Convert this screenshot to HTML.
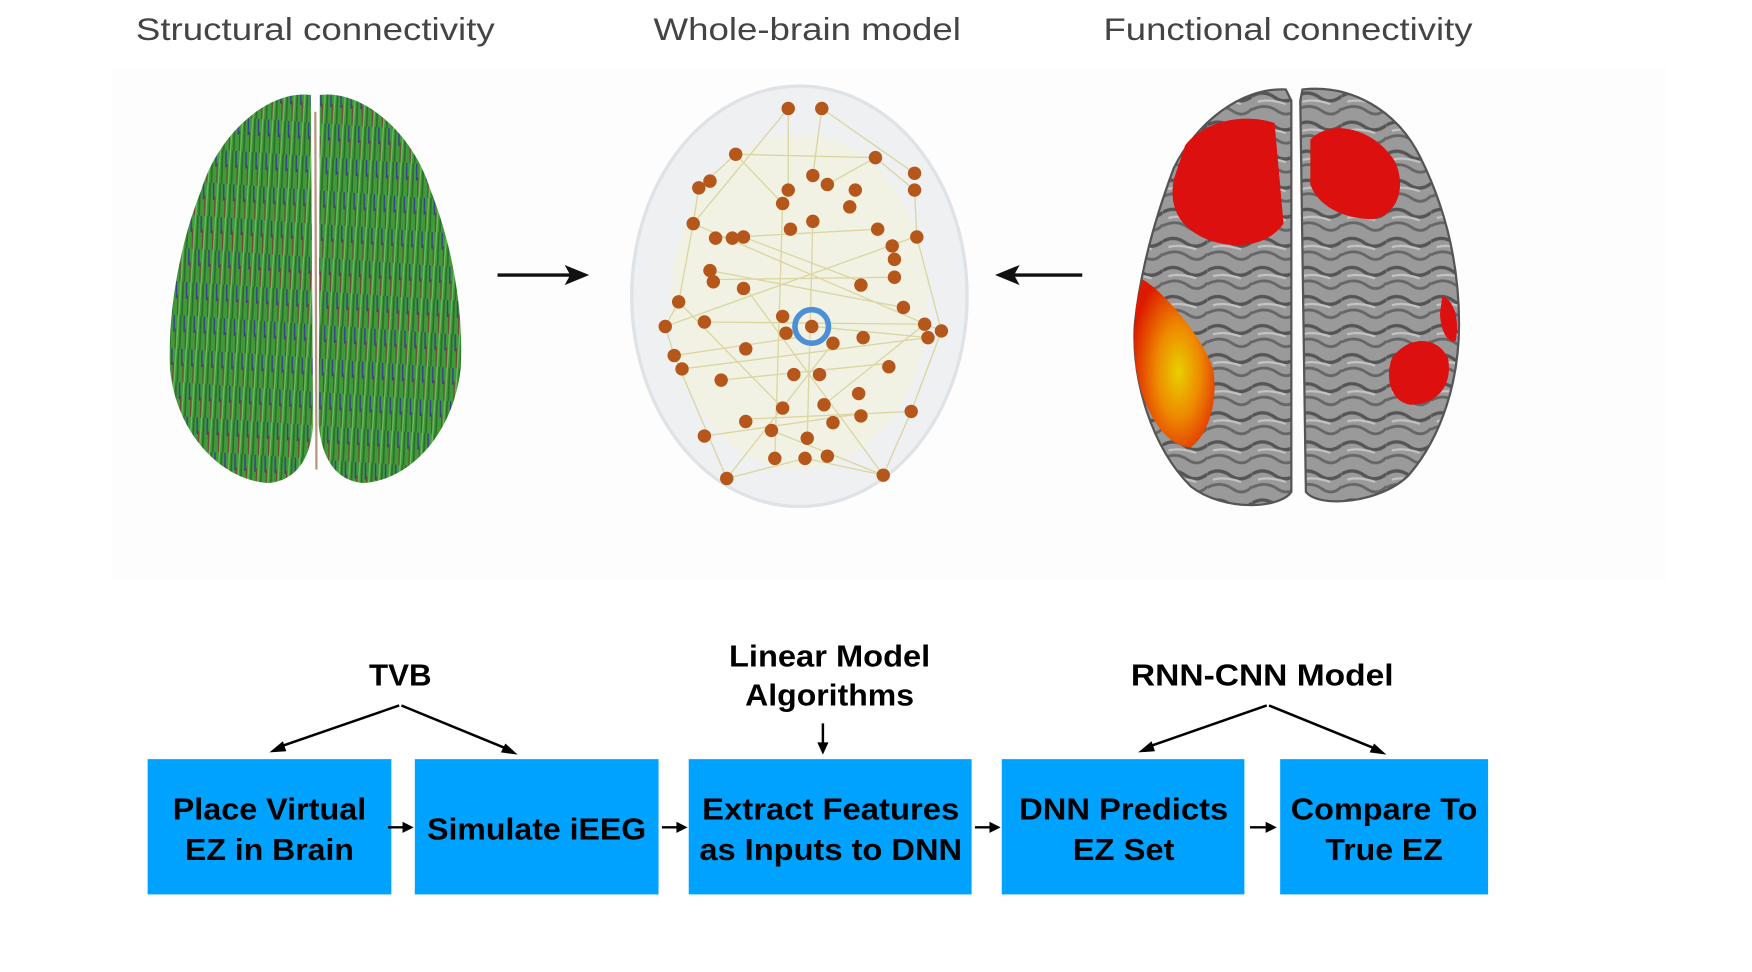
<!DOCTYPE html>
<html><head><meta charset="utf-8"><style>
html,body{margin:0;padding:0;background:#fff;}
svg{display:block;}
.t{font-family:"Liberation Sans",sans-serif;}
.b{font-family:"Liberation Sans",sans-serif;font-weight:bold;fill:#000;}
</style></head><body>
<svg width="1752" height="972" viewBox="0 0 1567 869.4" xmlns="http://www.w3.org/2000/svg">
<defs>
<pattern id="fib" width="9" height="30" patternUnits="userSpaceOnUse" patternTransform="rotate(4)">
<rect width="9" height="30" fill="#3f9a3a"/>
<path d="M1 0 L2 30" stroke="#2a6f2a" stroke-width="1.5"/>
<path d="M4 0 L5 15" stroke="#3c3f8f" stroke-width="1.3"/>
<path d="M6 12 L7 30" stroke="#7a3f3a" stroke-width="1"/>
<path d="M8 0 L8 30" stroke="#6fc060" stroke-width="1"/>
</pattern>
<pattern id="gyr" width="40" height="26" patternUnits="userSpaceOnUse">
<rect width="40" height="26" fill="#9a9a9a"/>
<path d="M0 8 Q10 2 20 9 T40 8" stroke="#555" stroke-width="3" fill="none"/>
<path d="M0 20 Q12 14 22 21 T40 19" stroke="#666" stroke-width="2.5" fill="none"/>
<path d="M5 13 Q15 10 30 15" stroke="#c4c4c4" stroke-width="2" fill="none"/>
</pattern>
<radialGradient id="hot" cx="0.55" cy="0.55" r="0.6">
<stop offset="0" stop-color="#e8d000"/><stop offset="0.45" stop-color="#ee8a00"/><stop offset="1" stop-color="#dd1a00"/>
</radialGradient>
</defs>
<rect x="100" y="60" width="1390" height="460" fill="#fdfdfd"/>

<text class="t" x="282" y="36" font-size="28" fill="#444" text-anchor="middle" textLength="321" lengthAdjust="spacingAndGlyphs">Structural connectivity</text>
<text class="t" x="722" y="36" font-size="28" fill="#444" text-anchor="middle" textLength="275" lengthAdjust="spacingAndGlyphs">Whole-brain model</text>
<text class="t" x="1152" y="36" font-size="28" fill="#444" text-anchor="middle" textLength="330" lengthAdjust="spacingAndGlyphs">Functional connectivity</text>

<!-- brain 1 -->
<path d="M278 85 C240 80 195 120 180 170 C160 220 150 280 152 330 C158 390 200 430 240 432 C265 430 278 410 280 380 Z" fill="url(#fib)"/>
<path d="M286 85 C325 80 370 120 385 170 C405 220 415 280 412 330 C405 390 365 430 325 432 C300 430 288 410 285 380 Z" fill="url(#fib)"/>
<path d="M282 100 L283 420" stroke="#8a5030" stroke-width="2" opacity="0.6"/>

<!-- arrows top -->
<line x1="445" y1="246" x2="515" y2="246" stroke="#111" stroke-width="3"/>
<polygon points="527,246 505,237 510,246 505,255" fill="#111"/>
<line x1="903" y1="246" x2="968" y2="246" stroke="#111" stroke-width="3"/>
<polygon points="890,246 912,237 907,246 912,255" fill="#111"/>

<!-- brain 2 -->
<ellipse cx="715" cy="265" rx="150" ry="188" fill="#eef0f2" stroke="#e0e3e6" stroke-width="3"/>
<ellipse cx="715" cy="270" rx="115" ry="150" fill="#f2f2e0" opacity="0.8"/>
<g stroke="#d8d49a" stroke-width="1.2" opacity="0.9" fill="none">
<path d="M658 138 L783 141 L818 170 L820 212 L842 296 L815 368 L790 425 L720 410 L650 428 L603 318 L595 292 L607 270 L620 200 L625 168 L658 138"/>
<path d="M705 97 L705 170 M735 97 L727 157 M658 138 L700 182 M783 141 L740 165 M635 242 L808 275 M640 250 L800 248 M630 288 L827 290 M610 330 L830 302 M645 340 L795 325 M665 375 L815 368 M630 390 L770 370 M690 385 L790 425 M650 428 L745 307 M790 425 L665 255 M705 97 L620 200 M735 97 L818 155 M700 182 L693 410 M727 198 L722 392 M620 200 L842 296 M818 212 L595 292 M665 212 L770 252 M785 205 L640 213 M607 270 L700 365 M827 290 L737 362 M603 318 L712 302 M727 292 L830 302"/>
</g>
<g fill="#b5561a">
<circle cx="705" cy="97" r="6"/><circle cx="735" cy="97" r="6"/><circle cx="658" cy="138" r="6"/><circle cx="783" cy="141" r="6"/>
<circle cx="635" cy="162" r="6"/><circle cx="625" cy="168" r="6"/><circle cx="818" cy="155" r="6"/><circle cx="818" cy="170" r="6"/>
<circle cx="705" cy="170" r="6"/><circle cx="727" cy="157" r="6"/><circle cx="740" cy="165" r="6"/><circle cx="700" cy="182" r="6"/>
<circle cx="765" cy="170" r="6"/><circle cx="760" cy="185" r="6"/><circle cx="620" cy="200" r="6"/><circle cx="665" cy="212" r="6"/>
<circle cx="640" cy="213" r="6"/><circle cx="655" cy="213" r="6"/><circle cx="727" cy="198" r="6"/><circle cx="707" cy="205" r="6"/>
<circle cx="785" cy="205" r="6"/><circle cx="820" cy="212" r="6"/><circle cx="798" cy="220" r="6"/><circle cx="800" cy="232" r="6"/>
<circle cx="635" cy="242" r="6"/><circle cx="638" cy="252" r="6"/><circle cx="665" cy="258" r="6"/><circle cx="770" cy="255" r="6"/>
<circle cx="800" cy="248" r="6"/><circle cx="607" cy="270" r="6"/><circle cx="630" cy="288" r="6"/><circle cx="595" cy="292" r="6"/>
<circle cx="700" cy="283" r="6"/><circle cx="808" cy="275" r="6"/><circle cx="827" cy="290" r="6"/>
<circle cx="842" cy="296" r="6"/><circle cx="830" cy="302" r="6"/><circle cx="772" cy="302" r="6"/><circle cx="745" cy="307" r="6"/>
<circle cx="703" cy="298" r="6"/><circle cx="603" cy="318" r="6"/><circle cx="610" cy="330" r="6"/><circle cx="667" cy="312" r="6"/>
<circle cx="795" cy="328" r="6"/><circle cx="710" cy="335" r="6"/><circle cx="733" cy="335" r="6"/><circle cx="645" cy="340" r="6"/>
<circle cx="768" cy="352" r="6"/><circle cx="700" cy="365" r="6"/><circle cx="737" cy="362" r="6"/><circle cx="667" cy="377" r="6"/>
<circle cx="770" cy="372" r="6"/><circle cx="815" cy="368" r="6"/><circle cx="745" cy="378" r="6"/><circle cx="630" cy="390" r="6"/>
<circle cx="690" cy="385" r="6"/><circle cx="722" cy="392" r="6"/><circle cx="693" cy="410" r="6"/><circle cx="720" cy="410" r="6"/>
<circle cx="740" cy="408" r="6"/><circle cx="650" cy="428" r="6"/><circle cx="790" cy="425" r="6"/>
</g>
<circle cx="726" cy="292" r="15" fill="none" stroke="#4b8fd6" stroke-width="5"/>
<circle cx="726" cy="292" r="6" fill="#b5561a"/>

<!-- brain 3 -->
<path d="M1150 80 C1110 78 1070 110 1050 150 C1035 190 1020 240 1015 290 C1012 340 1030 400 1065 435 C1095 458 1145 455 1155 440 L1155 90 Z" fill="url(#gyr)" stroke="#555" stroke-width="2"/>
<path d="M1165 80 C1210 75 1250 100 1270 140 C1295 190 1305 240 1305 290 C1305 340 1290 390 1260 425 C1235 450 1180 455 1168 440 L1163 90 Z" fill="url(#gyr)" stroke="#555" stroke-width="2"/>
<path d="M1060 130 C1075 110 1110 100 1140 110 L1148 200 C1130 225 1095 222 1075 212 C1055 202 1045 185 1050 160 Z" fill="#dd1010"/>
<path d="M1172 125 C1190 105 1230 115 1248 145 C1258 168 1250 192 1228 196 C1200 196 1178 183 1172 165 Z" fill="#dd1010"/>
<path d="M1022 250 C1040 260 1075 300 1085 330 C1090 360 1080 390 1065 400 C1040 400 1018 360 1015 320 C1013 290 1016 265 1022 250 Z" fill="url(#hot)"/>
<path d="M1245 320 C1260 300 1285 300 1295 320 C1300 345 1285 362 1262 362 C1245 360 1238 340 1245 320 Z" fill="#dd1010"/>
<path d="M1290 265 C1300 268 1306 285 1302 305 C1295 308 1288 295 1288 280 Z" fill="#dd1010"/>

<!-- flowchart -->
<g fill="#00a2ff">
<rect x="132" y="679" width="218" height="121"/>
<rect x="371" y="679" width="218" height="121"/>
<rect x="616" y="679" width="253" height="121"/>
<rect x="896" y="679" width="217" height="121"/>
<rect x="1145" y="679" width="186" height="121"/>
</g>
<g font-size="27">
<text class="b" x="241" y="733" text-anchor="middle" textLength="173" lengthAdjust="spacingAndGlyphs">Place Virtual</text>
<text class="b" x="241" y="769" text-anchor="middle" textLength="151" lengthAdjust="spacingAndGlyphs">EZ in Brain</text>
<text class="b" x="480" y="751" text-anchor="middle" textLength="196" lengthAdjust="spacingAndGlyphs">Simulate iEEG</text>
<text class="b" x="743" y="733" text-anchor="middle" textLength="230" lengthAdjust="spacingAndGlyphs">Extract Features</text>
<text class="b" x="743" y="769" text-anchor="middle" textLength="235" lengthAdjust="spacingAndGlyphs">as Inputs to DNN</text>
<text class="b" x="1005" y="733" text-anchor="middle" textLength="187" lengthAdjust="spacingAndGlyphs">DNN Predicts</text>
<text class="b" x="1005" y="769" text-anchor="middle" textLength="91" lengthAdjust="spacingAndGlyphs">EZ Set</text>
<text class="b" x="1238" y="733" text-anchor="middle" textLength="167" lengthAdjust="spacingAndGlyphs">Compare To</text>
<text class="b" x="1238" y="769" text-anchor="middle" textLength="105" lengthAdjust="spacingAndGlyphs">True EZ</text>
<text class="b" x="358" y="613" text-anchor="middle" textLength="56" lengthAdjust="spacingAndGlyphs">TVB</text>
<text class="b" x="742" y="596" text-anchor="middle" textLength="180" lengthAdjust="spacingAndGlyphs">Linear Model</text>
<text class="b" x="742" y="631" text-anchor="middle" textLength="151" lengthAdjust="spacingAndGlyphs">Algorithms</text>
<text class="b" x="1129" y="613" text-anchor="middle" textLength="235" lengthAdjust="spacingAndGlyphs">RNN-CNN Model</text>
</g>
<g stroke="#000" stroke-width="2.2" fill="none">
<line x1="347" y1="740" x2="362" y2="740"/>
<line x1="592" y1="740" x2="607" y2="740"/>
<line x1="872" y1="740" x2="887" y2="740"/>
<line x1="1118" y1="740" x2="1134" y2="740"/>
<line x1="357" y1="631" x2="250" y2="668"/>
<line x1="359" y1="631" x2="454" y2="670"/>
<line x1="736" y1="647" x2="736" y2="666"/>
<line x1="1133" y1="631" x2="1027" y2="668"/>
<line x1="1135" y1="631" x2="1231" y2="670"/>
</g>
<g fill="#000">
<polygon points="370,740 360,735 360,745"/>
<polygon points="615,740 605,735 605,745"/>
<polygon points="895,740 885,735 885,745"/>
<polygon points="1142,740 1132,735 1132,745"/>
<polygon points="241,673 253,663 256,672"/>
<polygon points="463,675 448,673 452,665"/>
<polygon points="736,675 731,664 741,664"/>
<polygon points="1018,673 1030,663 1033,672"/>
<polygon points="1240,675 1225,673 1229,665"/>
</g>
</svg>
</body></html>
